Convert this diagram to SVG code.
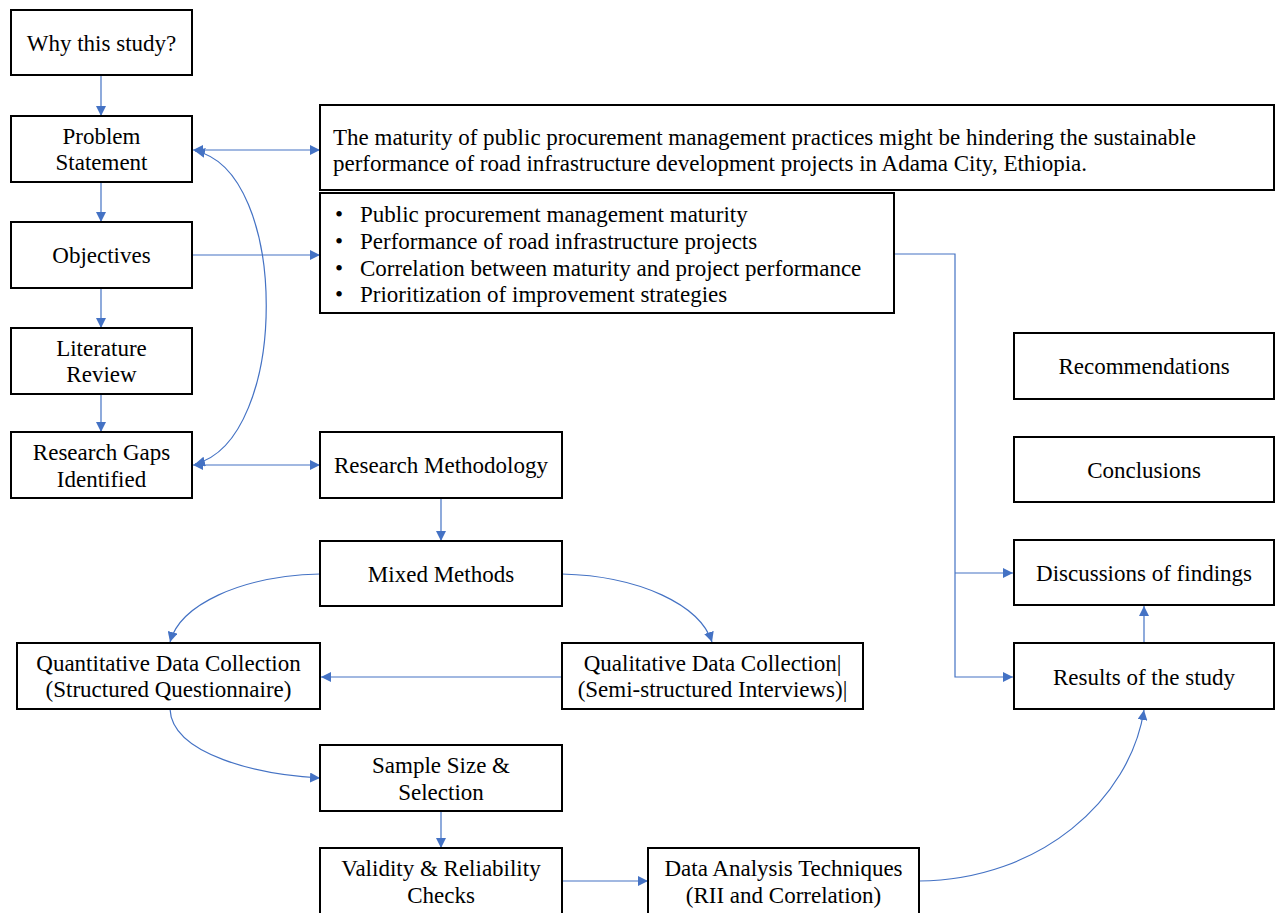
<svg xmlns="http://www.w3.org/2000/svg" width="1275" height="913" viewBox="0 0 1275 913">
<defs>
<marker id="ah" viewBox="0 0 10 10" refX="10" refY="5" markerWidth="10" markerHeight="10" markerUnits="userSpaceOnUse" orient="auto-start-reverse">
<path d="M0,0 L10,5 L0,10 z" fill="#4472C4"/>
</marker>
<style>
.b{fill:#fff;stroke:#000;stroke-width:2}
.t{font-size:23px;fill:#000;text-anchor:middle}
.l{font-size:23px;fill:#000}
.c{fill:none;stroke:#4472C4;stroke-width:1.2}
</style>
</defs>
<rect width="1275" height="913" fill="#fff"/>
<g id="connectors">
<path class="c" d="M101,75 V116" marker-end="url(#ah)"/>
<path class="c" d="M101,182 V222" marker-end="url(#ah)"/>
<path class="c" d="M101,288 V328" marker-end="url(#ah)"/>
<path class="c" d="M101,394 V432" marker-end="url(#ah)"/>
<path class="c" d="M193,150 H320" marker-start="url(#ah)" marker-end="url(#ah)"/>
<path class="c" d="M193,255 H320" marker-end="url(#ah)"/>
<path class="c" d="M193,465 H320" marker-start="url(#ah)" marker-end="url(#ah)"/>
<path class="c" d="M195,151 C290,170 290,440 195,464" marker-start="url(#ah)" marker-end="url(#ah)"/>
<path class="c" d="M441,498 V541" marker-end="url(#ah)"/>
<path class="c" d="M320,574 C240,576 180,605 170,642" marker-end="url(#ah)"/>
<path class="c" d="M562,574 C640,576 700,605 712,642" marker-end="url(#ah)"/>
<path class="c" d="M562,677 H321" marker-end="url(#ah)"/>
<path class="c" d="M170,709 C172,755 260,775 320,778" marker-end="url(#ah)"/>
<path class="c" d="M441,811 V848" marker-end="url(#ah)"/>
<path class="c" d="M562,881 H648" marker-end="url(#ah)"/>
<path class="c" d="M919,881 C1040,880 1130,800 1144,710" marker-end="url(#ah)"/>
<path class="c" d="M1144,643 V606" marker-end="url(#ah)"/>
<path class="c" d="M895,254 H955 V677 H1013" marker-end="url(#ah)"/>
<path class="c" d="M955,573 H1013" marker-end="url(#ah)"/>
</g>
<g font-family="'Liberation Serif', 'Times New Roman', Times, 'DejaVu Serif', serif">
<g id="why"><rect class="b" x="11" y="10" width="181" height="65"/><text class="t" x="101.5" y="51">Why this study?</text></g>
<g id="problem"><rect class="b" x="11" y="116" width="181" height="66"/><text class="t" x="101.5" y="144">Problem</text><text class="t" x="101.5" y="170">Statement</text></g>
<g id="objectives"><rect class="b" x="11" y="222" width="181" height="66"/><text class="t" x="101.5" y="263">Objectives</text></g>
<g id="literature"><rect class="b" x="11" y="328" width="181" height="66"/><text class="t" x="101.5" y="356">Literature</text><text class="t" x="101.5" y="382">Review</text></g>
<g id="gaps"><rect class="b" x="11" y="432" width="181" height="66"/><text class="t" x="101.5" y="460">Research Gaps</text><text class="t" x="101.5" y="487">Identified</text></g>
<g id="statement"><rect class="b" x="320" y="105" width="954" height="85"/><text class="l" x="333" y="145">The maturity of public procurement management practices might be hindering the sustainable</text><text class="l" x="333" y="171">performance of road infrastructure development projects in Adama City, Ethiopia.</text></g>
<g id="objlist"><rect class="b" x="320" y="193" width="574" height="120"/>
<text class="l" x="335" y="222">•</text><text class="l" x="360" y="222">Public procurement management maturity</text>
<text class="l" x="335" y="249">•</text><text class="l" x="360" y="249">Performance of road infrastructure projects</text>
<text class="l" x="335" y="276">•</text><text class="l" x="360" y="276">Correlation between maturity and project performance</text>
<text class="l" x="335" y="302">•</text><text class="l" x="360" y="302">Prioritization of improvement strategies</text></g>
<g id="methodology"><rect class="b" x="320" y="432" width="242" height="66"/><text class="t" x="441" y="473">Research Methodology</text></g>
<g id="mixed"><rect class="b" x="320" y="541" width="242" height="65"/><text class="t" x="441" y="582">Mixed Methods</text></g>
<g id="quant"><rect class="b" x="17" y="643" width="303" height="66"/><text class="t" x="168.5" y="671">Quantitative Data Collection</text><text class="t" x="168.5" y="697">(Structured Questionnaire)</text></g>
<g id="qual"><rect class="b" x="562" y="643" width="301" height="66"/><text class="t" x="712.5" y="671">Qualitative  Data Collection|</text><text class="t" x="712.5" y="697">(Semi-structured Interviews)|</text></g>
<g id="sample"><rect class="b" x="320" y="745" width="242" height="66"/><text class="t" x="441" y="773">Sample Size &amp;</text><text class="t" x="441" y="800">Selection</text></g>
<g id="validity"><rect class="b" x="320" y="848" width="242" height="70"/><text class="t" x="441" y="876">Validity  &amp; Reliability</text><text class="t" x="441" y="903">Checks</text></g>
<g id="analysis"><rect class="b" x="648" y="848" width="271" height="70"/><text class="t" x="783.5" y="876">Data Analysis Techniques</text><text class="t" x="783.5" y="903">(RII and Correlation)</text></g>
<g id="recommendations"><rect class="b" x="1014" y="333" width="260" height="66"/><text class="t" x="1144" y="374">Recommendations</text></g>
<g id="conclusions"><rect class="b" x="1014" y="437" width="260" height="65"/><text class="t" x="1144" y="478">Conclusions</text></g>
<g id="discussions"><rect class="b" x="1014" y="540" width="260" height="65"/><text class="t" x="1144" y="581">Discussions of findings</text></g>
<g id="results"><rect class="b" x="1014" y="643" width="260" height="66"/><text class="t" x="1144" y="685">Results of the study</text></g>
</g>
</svg>
